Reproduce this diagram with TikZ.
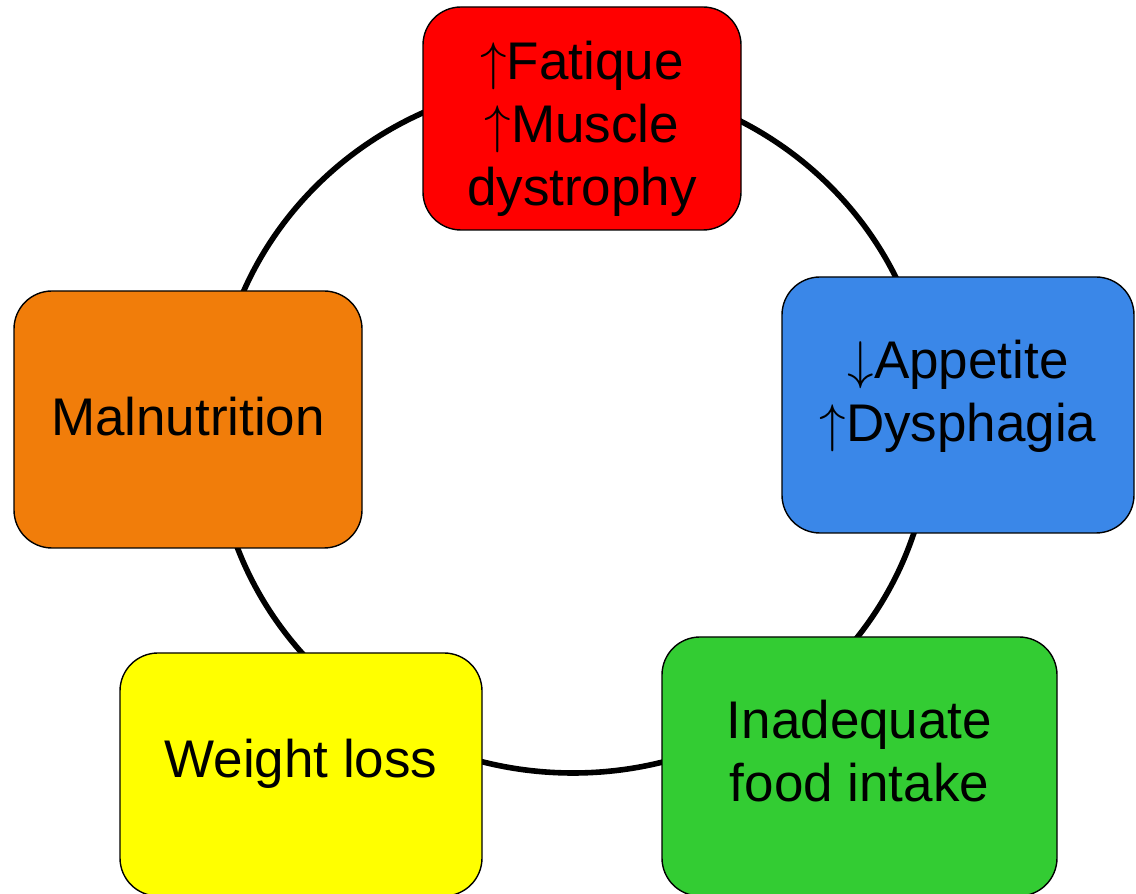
\RequirePackage{fix-cm}
\documentclass[tikz,border=0pt]{standalone}
\usepackage{fontspec}
\setmainfont{Liberation Sans}
\definecolor{fatiguered}{RGB}{255,0,0}
\definecolor{appetiteblue}{RGB}{58,135,232}
\definecolor{intakegreen}{RGB}{51,204,51}
\definecolor{lossyellow}{RGB}{255,255,0}
\definecolor{malorange}{RGB}{241,125,10}
\newcommand{\up}{$\uparrow$}
\newcommand{\down}{$\downarrow$}
\tikzset{
  stage/.style={draw=black, line width=1.4pt, rounded corners=38pt, inner sep=0pt},
  caption/.style={font=\fontsize{53}{63}\selectfont, align=center, anchor=base, inner sep=0pt}
}

\begin{document}
\begin{tikzpicture}[x=1pt,y=1pt]
    \useasboundingbox (0,0) rectangle (1136,894);
    % the cycle
    \draw[line width=5.6pt] (573,467) ellipse [x radius=358, y radius=346];
    % boxes
    \node[stage, fill=fatiguered, minimum width=318pt, minimum height=223pt] (fatiguebox) at (582,775.5) {};
    \node[stage, fill=appetiteblue, minimum width=352pt, minimum height=256pt] (appetitebox) at (958,489) {};
    \node[stage, fill=intakegreen, minimum width=395pt, minimum height=259pt] (intakebox) at (859.5,127.5) {};
    \node[stage, fill=lossyellow, minimum width=362pt, minimum height=243pt] (lossbox) at (301,119.5) {};
    \node[stage, fill=malorange, minimum width=348pt, minimum height=257pt] (malbox) at (188,474.5) {};
    % texts (base = last line)
    \node[caption] (fatigue) at (582,688) {\up Fatique\\\up Muscle\\dystrophy};
    \node[caption] (appetite) at (958,452) {\down Appetite\\\up Dysphagia};
    \node[caption] (intake) at (859.5,92) {Inadequate\\food intake};
    \node[caption] (loss) at (301,116) {Weight loss};
    \node[caption] (mal) at (188,458) {Malnutrition};
\end{tikzpicture}
\end{document}
